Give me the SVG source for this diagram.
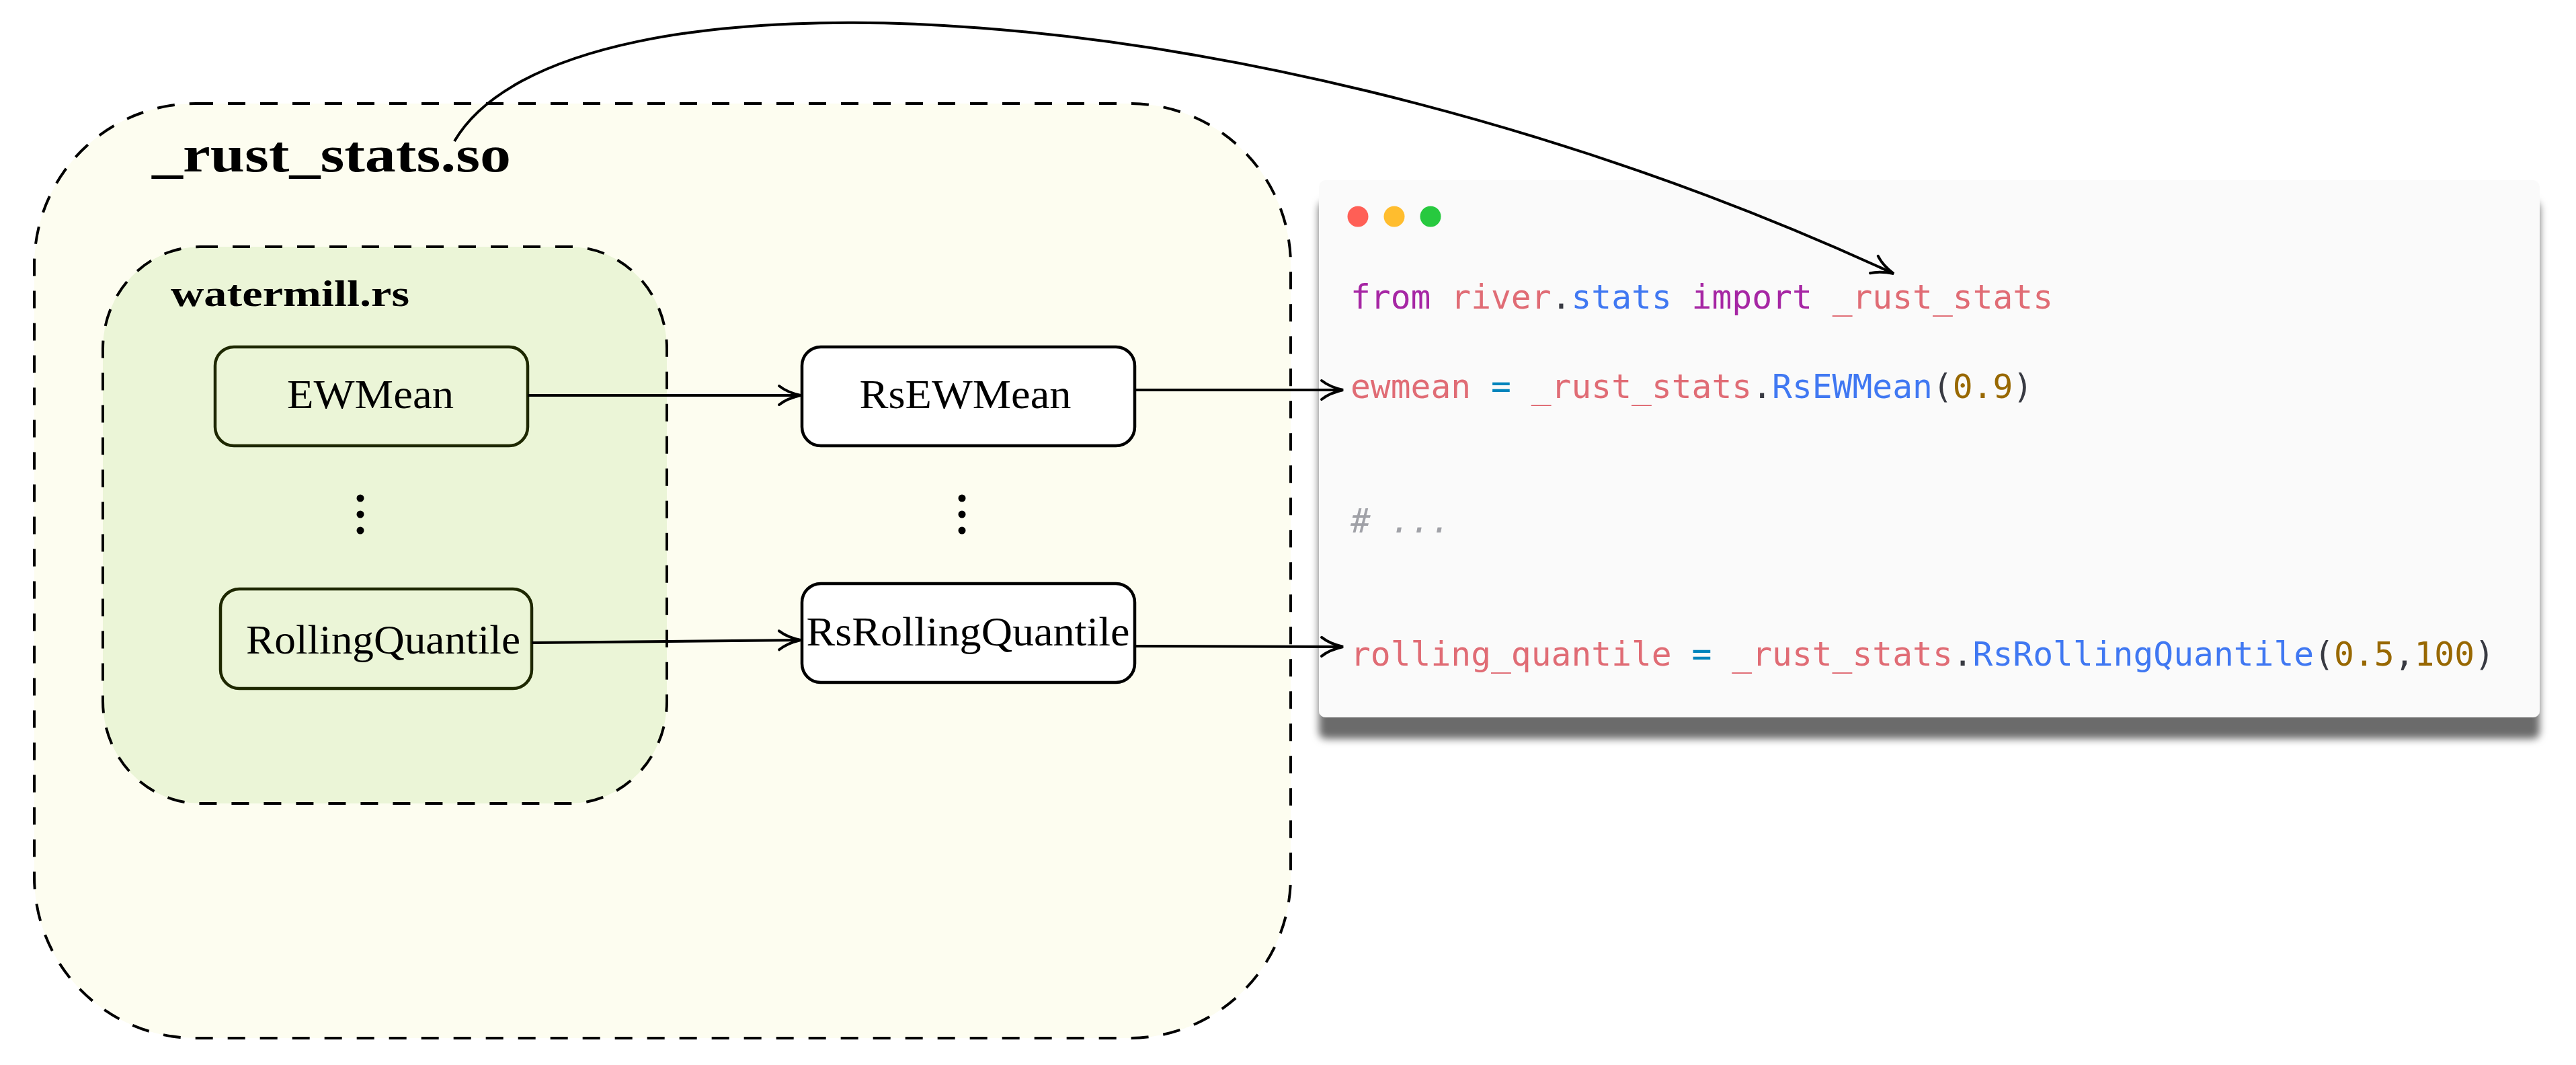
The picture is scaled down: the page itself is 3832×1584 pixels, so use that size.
<svg xmlns="http://www.w3.org/2000/svg" width="3832" height="1584" viewBox="0 0 3832 1584">
<style>
  .dash { stroke:#000; stroke-width:4; stroke-dasharray:26 22; }
  .lbl { font-family:"Liberation Serif","DejaVu Serif",serif; font-size:61px; fill:#000; text-anchor:middle; }
  .ttl { font-family:"Liberation Serif","DejaVu Serif",serif; font-weight:bold; fill:#000; }
  .gnode { fill:#ebf5d7; stroke:#1e2800; stroke-width:4.5; }
  .wnode { fill:#ffffff; stroke:#000; stroke-width:4.5; }
  .edge { fill:none; stroke:#000; stroke-width:4; marker-end:url(#arr); }
  .code { font-family:"DejaVu Sans Mono","Liberation Mono",monospace; font-size:49.6px; }
  .kw { fill:#a626a4; } .vr { fill:#e06c75; } .fn { fill:#4078f2; } .op { fill:#0184bc; }
  .nm { fill:#986801; } .pn { fill:#383a42; } .cm { fill:#a0a1a7; font-style:italic; }
</style>
<defs>
  <marker id="arr" markerUnits="userSpaceOnUse" markerWidth="40" markerHeight="40" viewBox="-36 -20 40 40" refX="0" refY="0" orient="auto" overflow="visible">
    <path d="M -32 -14 C -22 -6 -9 -2 0 0 C -9 2 -22 6 -32 14" fill="none" stroke="#000" stroke-width="4" stroke-linecap="round"/>
  </marker>
  <filter id="sh" x="-5%" y="-10%" width="110%" height="130%">
    <feDropShadow dx="0" dy="32" stdDeviation="6" flood-color="#000" flood-opacity="0.58"/>
  </filter>
</defs>
<rect width="3832" height="1584" fill="#ffffff"/>

<g id="rust_stats_so">
  <rect x="51" y="154" width="1869" height="1390" rx="240" ry="240" fill="#fdfdf0" class="dash"/>
  <text class="ttl" x="226" y="255" font-size="76" textLength="534" lengthAdjust="spacingAndGlyphs">_rust_stats.so</text>
</g>

<g id="watermill_rs">
  <rect x="153" y="367" width="839" height="828" rx="145" ry="152" fill="#ebf5d7" class="dash"/>
  <text class="ttl" x="254" y="455" font-size="54" textLength="355" lengthAdjust="spacingAndGlyphs">watermill.rs</text>
</g>

<g id="EWMean">
  <rect class="gnode" x="320" y="516" width="465" height="147" rx="28"/>
  <text class="lbl" x="551" y="607" textLength="248" lengthAdjust="spacingAndGlyphs">EWMean</text>
</g>
<g id="dots_left">
  <circle cx="536" cy="741" r="5.5" fill="#000"/>
  <circle cx="536" cy="765" r="5.5" fill="#000"/>
  <circle cx="536" cy="789" r="5.5" fill="#000"/>
</g>
<g id="RollingQuantile">
  <rect class="gnode" x="328" y="876" width="463" height="148" rx="28"/>
  <text class="lbl" x="570" y="972" textLength="408" lengthAdjust="spacingAndGlyphs">RollingQuantile</text>
</g>

<g id="RsEWMean">
  <rect class="wnode" x="1193" y="516" width="495" height="147" rx="28"/>
  <text class="lbl" x="1436" y="607" textLength="315" lengthAdjust="spacingAndGlyphs">RsEWMean</text>
</g>
<g id="dots_right">
  <circle cx="1431" cy="741" r="5.5" fill="#000"/>
  <circle cx="1431" cy="765" r="5.5" fill="#000"/>
  <circle cx="1431" cy="789" r="5.5" fill="#000"/>
</g>
<g id="RsRollingQuantile">
  <rect class="wnode" x="1193" y="868" width="495" height="147" rx="28"/>
  <text class="lbl" x="1440" y="960" textLength="481" lengthAdjust="spacingAndGlyphs">RsRollingQuantile</text>
</g>

<g id="code_window">
  <rect x="1962" y="268" width="1816" height="799" rx="10" fill="#fafafa" filter="url(#sh)"/>
  <circle cx="2020" cy="322" r="15.5" fill="#ff5f56"/>
  <circle cx="2074" cy="322" r="15.5" fill="#ffbd2e"/>
  <circle cx="2128" cy="322" r="15.5" fill="#27c93f"/>
  <text class="code" x="2009" y="459" xml:space="preserve"><tspan class="kw">from</tspan> <tspan class="vr">river</tspan><tspan class="pn">.</tspan><tspan class="fn">stats</tspan> <tspan class="kw">import</tspan> <tspan class="vr">_rust_stats</tspan></text>
  <text class="code" x="2009" y="592" xml:space="preserve"><tspan class="vr">ewmean</tspan> <tspan class="op">=</tspan> <tspan class="vr">_rust_stats</tspan><tspan class="pn">.</tspan><tspan class="fn">RsEWMean</tspan><tspan class="pn">(</tspan><tspan class="nm">0.9</tspan><tspan class="pn">)</tspan></text>
  <text class="code cm" x="2009" y="792" xml:space="preserve"># ...</text>
  <text class="code" x="2009" y="990" xml:space="preserve"><tspan class="vr">rolling_quantile</tspan> <tspan class="op">=</tspan> <tspan class="vr">_rust_stats</tspan><tspan class="pn">.</tspan><tspan class="fn">RsRollingQuantile</tspan><tspan class="pn">(</tspan><tspan class="nm">0.5</tspan><tspan class="pn">,</tspan><tspan class="nm">100</tspan><tspan class="pn">)</tspan></text>
</g>

<g id="connectors">
  <path class="edge" d="M 785 588 L 1191 588"/>
  <path class="edge" d="M 791 956 L 1191 952"/>
  <path class="edge" d="M 1688 580 L 1998 580"/>
  <path class="edge" d="M 1688 961 L 1998 962"/>
  <path class="edge" d="M 676 210 C 840 -70, 1880 -25, 2817 407"/>
</g>
</svg>
